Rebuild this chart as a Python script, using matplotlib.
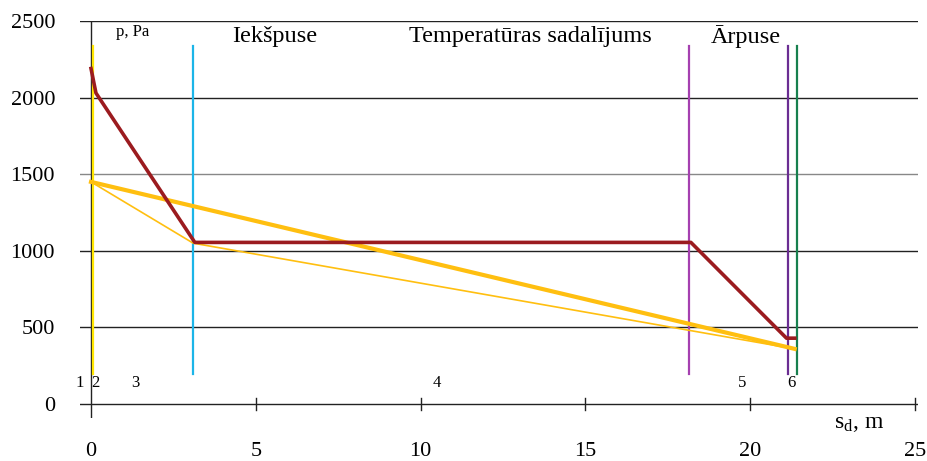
import numpy as np
import matplotlib.pyplot as plt

plt.rcParams['font.family'] = ['Liberation Serif', 'DejaVu Serif']

# partial vapour pressure (red) and saturation lines (yellow)
red_x = [0, 0.15, 3.15, 18.2, 21.1, 21.35]
red_y = [2190, 2030, 1055, 1055, 430, 430]
thick_x = [0, 21.35]
thick_y = [1450, 360]
thin_x = [0, 3.1, 21.35]
thin_y = [1450, 1050, 360]

# layer boundaries
bound_x = [0.06, 3.1, 18.15, 21.15, 21.42]
bound_c = ['#FFE600', '#1CB5E8', '#A540B0', '#6A2D92', '#17804E']

layer_labels = ['1', '2', '3', '4', '5', '6']
layer_pos = [-0.33, 0.12, 1.33, 10.5, 19.75, 21.24]

yticks = [0, 500, 1000, 1500, 2000, 2500]
xticks = [0, 5, 10, 15, 20, 25]

fig = plt.figure(figsize=(9.28, 4.61), dpi=100)
ax = fig.add_axes([80/928, 43/461, 838/928, 397/461])
ax.set_xlim(-0.334, 25.09)
ax.set_ylim(-91, 2500)
for s in ax.spines.values():
    s.set_visible(False)

for y in yticks[1:]:
    ax.axhline(y, color='#888888' if y == 1500 else '#222222', lw=1.0, zorder=1)
ax.axhline(0, color='#222222', lw=1.0, zorder=1)
ax.axvline(0, color='#222222', lw=1.0, zorder=1)
for x in xticks[1:]:
    ax.plot([x, x], [-40, 40], color='#222222', lw=1.0)

for x, c in zip(bound_x, bound_c):
    ax.plot([x, x], [195, 2340], color=c, lw=1.6, zorder=2)

ax.plot(thick_x, thick_y, color='#FFBF10', lw=3.0, zorder=3)
ax.plot(thin_x, thin_y, color='#FFBF10', lw=1.2, zorder=3)
ax.plot(red_x, red_y, color='#9B1B1F', lw=2.6, zorder=4)

ax.set_yticks(yticks)
ax.set_xticks(xticks)
ax.tick_params(axis='y', length=0, pad=18, labelsize=16)
ax.tick_params(axis='x', length=0, pad=17, labelsize=16)

for lab, x in zip(layer_labels, layer_pos):
    ax.text(x, 137, lab, ha='center', va='center', fontsize=12)

ax.text(1.25, 2430, 'p, Pa', ha='center', va='center', fontsize=12)
ax.text(5.58, 2400, 'Iekšpuse', ha='center', va='center', fontsize=17.5)
ax.text(13.32, 2400, 'Temperatūras sadalījums', ha='center', va='center', fontsize=17.5)
ax.text(19.87, 2400, 'Ārpuse', ha='center', va='center', fontsize=17.5)
ax.text(23.3, -124, r'$\mathregular{s_d}$, m', ha='center', va='center', fontsize=17)

fig.savefig('out.png', dpi=100)
